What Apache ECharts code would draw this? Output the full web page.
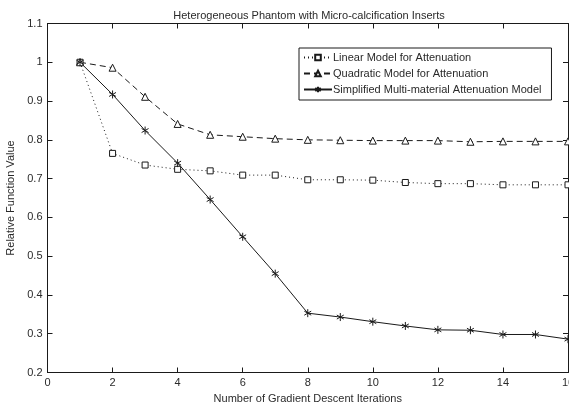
<!DOCTYPE html>
<html>
<head>
<meta charset="utf-8">
<script src="https://cdn.jsdelivr.net/npm/echarts@6/dist/echarts.min.js"></script>
<style>
  html, body { margin: 0; padding: 0; background: #fff; }
  #chart { width: 569px; height: 406px; }
</style>
</head>
<body>
<div id="chart"></div>
<script>
// Gradient descent iteration index
const iterations = [1, 2, 3, 4, 5, 6, 7, 8, 9, 10, 11, 12, 13, 14, 15, 16];

// Relative function value per model
const linearModel = [1.0, 0.765, 0.735, 0.724, 0.720, 0.709, 0.709, 0.697, 0.697, 0.696, 0.690, 0.687, 0.687, 0.684, 0.684, 0.684];
const quadraticModel = [1.0, 0.986, 0.911, 0.841, 0.813, 0.808, 0.803, 0.800, 0.799, 0.798, 0.798, 0.798, 0.795, 0.796, 0.796, 0.796];
const multiMaterialModel = [1.0, 0.917, 0.824, 0.740, 0.646, 0.550, 0.455, 0.353, 0.343, 0.331, 0.320, 0.310, 0.309, 0.298, 0.298, 0.286];

const seriesNames = [
  'Linear Model for Attenuation',
  'Quadratic Model for Attenuation',
  'Simplified Multi-material Attenuation Model'
];

const xTicks = { min: 0, max: 16, interval: 2 };
const yTicks = { min: 0.2, max: 1.1, interval: 0.1 };

const FONT = 'Liberation Sans, Arial, sans-serif';
const INK = '#1a1a1a';
const TEXT = '#2a2a2a';

const asterisk = 'path://M0,-5L0,5M-4.33,-2.5L4.33,2.5M-4.33,2.5L4.33,-2.5';

function pairs(vals) {
  return iterations.map((x, i) => [x, vals[i]]);
}

function boxAxis(kind, pos, show) {
  return {
    type: 'value',
    position: pos,
    min: kind === 'x' ? xTicks.min : yTicks.min,
    max: kind === 'x' ? xTicks.max : yTicks.max,
    interval: kind === 'x' ? xTicks.interval : yTicks.interval,
    axisLine: { show: true, onZero: false, lineStyle: { color: INK, width: 1 } },
    axisTick: { show: true, inside: true, length: 5, lineStyle: { color: INK, width: 1 } },
    splitLine: { show: false },
    axisLabel: { show: show, color: TEXT, fontFamily: FONT, fontSize: 11 }
  };
}

const chart = echarts.init(document.getElementById('chart'), null, { renderer: 'canvas' });

const xMain = boxAxis('x', 'bottom', true);
xMain.axisLabel.margin = 5;
xMain.axisLabel.showMaxLabel = true;
xMain.axisLabel.hideOverlap = false;
xMain.name = 'Number of Gradient Descent Iterations';
xMain.nameLocation = 'middle';
xMain.nameGap = 20;
xMain.nameTextStyle = { color: TEXT, fontFamily: FONT, fontSize: 11 };

const yMain = boxAxis('y', 'left', true);
yMain.axisLabel.margin = 5;
yMain.axisLabel.formatter = v => String(Math.round(v * 10) / 10);
yMain.name = 'Relative Function Value';
yMain.nameLocation = 'middle';
yMain.nameGap = 29;
yMain.nameTextStyle = { color: TEXT, fontFamily: FONT, fontSize: 11 };

const xTop = boxAxis('x', 'top', false);
const yRight = boxAxis('y', 'right', false);

function lineSeries(name, vals, lineType, symbol, size) {
  return {
    name: name,
    type: 'line',
    xAxisIndex: 0,
    yAxisIndex: 0,
    data: pairs(vals),
    symbol: symbol,
    symbolSize: size,
    symbolKeepAspect: true,
    showAllSymbol: true,
    lineStyle: { color: INK, width: 1, type: lineType },
    itemStyle: { color: symbol === asterisk ? INK : '#fff', borderColor: INK, borderWidth: 1 },
    emphasis: { disabled: true },
    animation: false,
    z: 3
  };
}

chart.setOption({
  backgroundColor: '#fff',
  animation: false,
  title: {
    text: 'Heterogeneous Phantom with Micro-calcification Inserts',
    left: 304,
    textAlign: 'center',
    top: 5,
    textStyle: { color: TEXT, fontFamily: FONT, fontSize: 11, fontWeight: 'normal' }
  },
  grid: {
    left: 47.5, right: 1, top: 23.5, bottom: 33.5,
    containLabel: false,
    outerBoundsMode: 'none'
  },
  xAxis: [xMain, xTop],
  yAxis: [yMain, yRight],
  legend: {
    orient: 'vertical',
    left: 299,
    top: 48,
    backgroundColor: '#fff',
    borderColor: INK,
    borderWidth: 1,
    borderRadius: 0,
    padding: [4, 10, 5, 4],
    itemGap: 5,
    itemWidth: 28,
    itemHeight: 7,
    textStyle: { color: TEXT, fontFamily: FONT, fontSize: 11, padding: [0, 0, 0, -4] },
    data: seriesNames,
    selectedMode: false
  },
  series: [
    lineSeries(seriesNames[0], linearModel, [1, 3], 'rect', 6),
    lineSeries(seriesNames[1], quadraticModel, [6, 4], 'triangle', 7),
    lineSeries(seriesNames[2], multiMaterialModel, 'solid', asterisk, 8)
  ]
});
</script>
</body>
</html>
